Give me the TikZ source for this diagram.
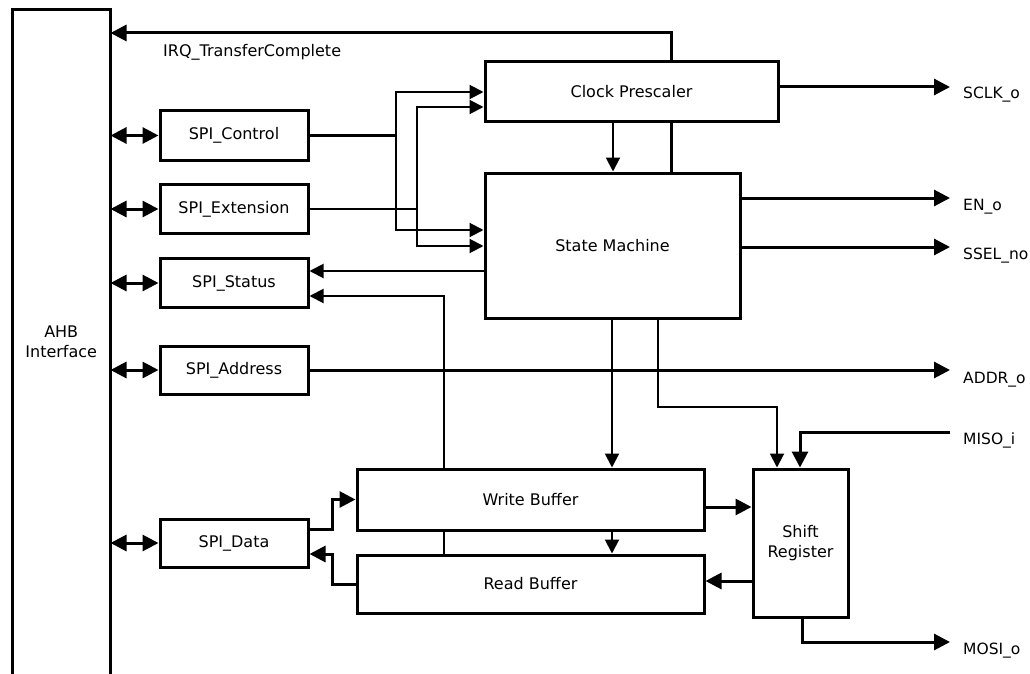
\documentclass[tikz,border=0pt]{standalone}
\usepackage{fontspec}
\setmainfont{DejaVu Sans}
\usetikzlibrary{arrows.meta,backgrounds}
\begin{document}
\begin{tikzpicture}[x=1pt,y=-1pt,
  font=\fontsize{16}{20}\selectfont,
  blk/.style={draw,line width=3pt,fill=white,inner sep=0pt,align=center},
  thk/.style={line width=3pt},
  thn/.style={line width=2pt},
  arr/.style={-{Triangle[length=16pt,width=16pt]}},
  arrs/.style={-{Triangle[length=14pt,width=14pt]}},
  dbl/.style={{Triangle[length=16pt,width=16pt]}-{Triangle[length=16pt,width=16pt]}},
  lbl/.style={anchor=base west,inner sep=0pt,font=\fontsize{15.5}{19}\selectfont}]
\useasboundingbox (0,0) rectangle (1030,674);
% AHB interface (open at the bottom)
\node[inner sep=0pt,outer sep=0pt,minimum width=98.5pt,minimum height=664pt,align=center] (ahb) at (61.25,342) {AHB\\Interface};
\draw[thk] (ahb.south west) -- (ahb.north west) -- (ahb.north east) -- (ahb.south east);
% register blocks
\node[blk,minimum width=148pt,minimum height=49pt] (ctrl) at (234,135.5) {SPI\_Control};
\node[blk,minimum width=148pt,minimum height=49pt] (ext)  at (234,209) {SPI\_Extension};
\node[blk,minimum width=148pt,minimum height=49pt] (stat) at (234,283) {SPI\_Status};
\node[blk,minimum width=148pt,minimum height=48pt] (addr) at (234,370) {SPI\_Address};
\node[blk,minimum width=148pt,minimum height=48pt] (data) at (234,543) {SPI\_Data};
% core blocks
\node[blk,minimum width=293pt,minimum height=60pt] (clk) at (631.5,92) {Clock Prescaler};
\node[blk,minimum width=255pt,minimum height=145pt] (sm) at (612.5,245.5) {State Machine};
\node[blk,minimum width=347pt,minimum height=61pt] (wb) at (530.5,499.5) {Write Buffer};
\node[blk,minimum width=347pt,minimum height=58pt] (rb) at (530.5,584) {Read Buffer};
\node[blk,minimum width=95pt,minimum height=148pt] (sr) at (800.5,543) {Shift\\Register};
% labels
\node[lbl,font=\fontsize{16}{20}\selectfont] (irq) at (163,57) {IRQ\_TransferComplete};
\node[lbl] (sclk) at (963,99) {SCLK\_o};
\node[lbl] (en) at (963,210) {EN\_o};
\node[lbl] (ssel) at (963,259) {SSEL\_no};
\node[lbl] (addro) at (963,383) {ADDR\_o};
\node[lbl] (miso) at (963,444) {MISO\_i};
\node[lbl] (mosi) at (963,654) {MOSI\_o};
\coordinate (sclkP) at (950,87);
\coordinate (enP) at (950,198);
\coordinate (sselP) at (950,247);
\coordinate (addrP) at (950,370);
\coordinate (misoP) at (950,432);
\coordinate (mosiP) at (950,642);
% lines passing behind blocks
\begin{pgfonlayer}{background}
\draw[thk,arr] (sm.north -| 671,0) |- (ahb.east |- 0,33);
\draw[thn,arrs] (rb.north -| 444,0) |- (stat.east |- 0,296);
\end{pgfonlayer}
% bus connections
\draw[thk,dbl] (ahb.east |- ctrl) -- (ctrl.west);
\draw[thk,dbl] (ahb.east |- ext) -- (ext.west);
\draw[thk,dbl] (ahb.east |- stat) -- (stat.west);
\draw[thk,dbl] (ahb.east |- addr) -- (addr.west);
\draw[thk,dbl] (ahb.east |- data) -- (data.west);
% control / extension fan-out
\draw[thn] (ctrl.east) -- (396,135.5);
\draw[thn,arrs] (396,135.5) |- (clk.west);
\draw[thn,arrs] (396,135.5) |- (sm.west |- 0,230);
\draw[thn] (ext.east) -- (417,209);
\draw[thn,arrs] (417,209) |- (clk.west |- 0,107);
\draw[thn,arrs] (417,209) |- (sm.west |- 0,246);
% state machine links
\draw[thn,arrs] (sm.west |- 0,271) -- (stat.east |- 0,271);
\draw[thn,arrs] (clk.south -| 613,0) -- (sm.north -| 613,0);
\draw[thn,arrs] (sm.south -| 612,0) -- (wb.north -| 612,0);
\draw[thn,arrs] (sm.south -| 658,0) -- (658,407) -| (sr.north -| 777,0);
\draw[thn,arrs] (wb.south -| 612,0) -- (rb.north -| 612,0);
% data path
\draw[thk,arr] (data.east |- 0,529) -- (332,529) |- (wb.west);
\draw[thk,arr] (rb.west) -- (332,584) |- (data.east |- 0,554);
\draw[thk,arr] (wb.east |- 0,507) -- (sr.west |- 0,507);
\draw[thk,arr] (sr.west |- 0,581) -- (rb.east |- 0,581);
% outputs
\draw[thk,arr] (clk.east |- sclkP) -- (sclkP);
\draw[thk,arr] (sm.east |- enP) -- (enP);
\draw[thk,arr] (sm.east |- sselP) -- (sselP);
\draw[thk,arr] (addr.east) -- (addrP);
\draw[thk,arr] (misoP) -| (sr.north -| 800,0);
\draw[thk,arr] (sr.south -| 802,0) |- (mosiP);
\end{tikzpicture}
\end{document}
